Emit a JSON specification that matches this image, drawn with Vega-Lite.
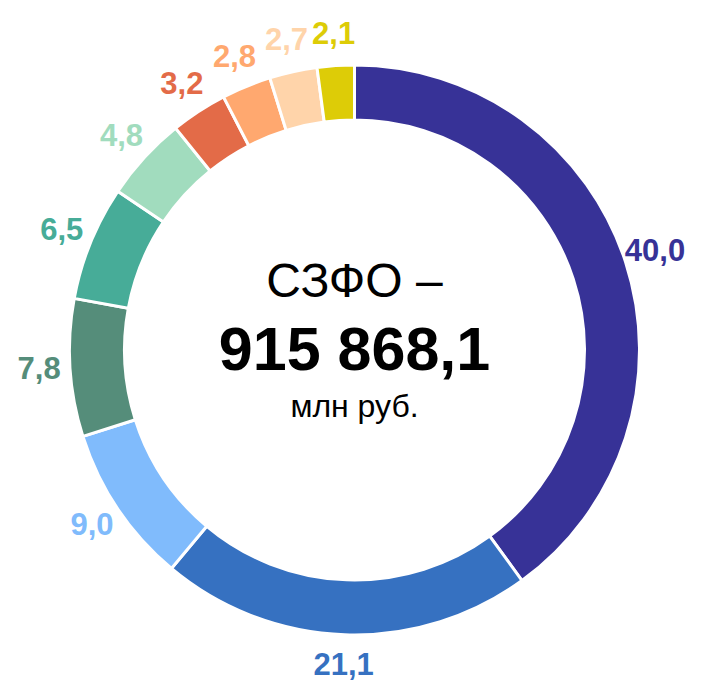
{
  "$schema": "https://vega.github.io/schema/vega-lite/v6.json",
  "width": 708,
  "height": 681,
  "autosize": {"type": "fit", "contains": "padding"},
  "padding": {"top": 19, "left": 1, "right": 0, "bottom": 0},
  "background": "white",
  "view": {"stroke": null},
  "datasets": {
    "shares": [
      {"i": 1, "cat": "a", "value": 40.0, "label": "40,0"},
      {"i": 2, "cat": "b", "value": 21.1, "label": "21,1"},
      {"i": 3, "cat": "c", "value": 9.0, "label": "9,0"},
      {"i": 4, "cat": "d", "value": 7.8, "label": "7,8"},
      {"i": 5, "cat": "e", "value": 6.5, "label": "6,5"},
      {"i": 6, "cat": "f", "value": 4.8, "label": "4,8"},
      {"i": 7, "cat": "g", "value": 3.2, "label": "3,2"},
      {"i": 8, "cat": "h", "value": 2.8, "label": "2,8"},
      {"i": 9, "cat": "k", "value": 2.7, "label": "2,7"},
      {"i": 10, "cat": "m", "value": 2.1, "label": "2,1"}
    ],
    "center": [
      {"line": "title", "text": "СЗФО –"},
      {"line": "total", "text": "915 868,1"},
      {"line": "unit", "text": "млн руб."}
    ]
  },
  "layer": [
    {
      "data": {"name": "shares"},
      "mark": {"type": "arc", "outerRadius": 285, "innerRadius": 230, "stroke": "white", "strokeWidth": 3},
      "encoding": {
        "theta": {"field": "value", "type": "quantitative", "stack": true},
        "order": {"field": "i", "type": "quantitative"},
        "color": {
          "field": "cat",
          "type": "nominal",
          "legend": null,
          "scale": {
            "domain": ["a", "b", "c", "d", "e", "f", "g", "h", "k", "m"],
            "range": ["#373297", "#3671C1", "#80BBFC", "#558D7A", "#47AC98", "#A1DCBE", "#E36B48", "#FFA86F", "#FFD4AA", "#DDCC07"]
          }
        }
      }
    },
    {
      "data": {"name": "shares"},
      "mark": {"type": "text", "radius": 316, "font": "Liberation Sans", "fontWeight": "bold", "fontSize": 31, "align": "center", "baseline": "middle"},
      "encoding": {
        "theta": {"field": "value", "type": "quantitative", "stack": true},
        "order": {"field": "i", "type": "quantitative"},
        "text": {"field": "label"},
        "color": {"field": "cat", "type": "nominal", "legend": null}
      }
    },
    {
      "data": {"name": "center"},
      "transform": [{"filter": "datum.line === 'title'"}],
      "mark": {"type": "text", "font": "Liberation Sans", "fontSize": 48, "color": "black", "align": "center", "baseline": "alphabetic", "dy": -53},
      "encoding": {"text": {"field": "text"}}
    },
    {
      "data": {"name": "center"},
      "transform": [{"filter": "datum.line === 'total'"}],
      "mark": {"type": "text", "font": "Liberation Sans", "fontWeight": "bold", "fontSize": 61, "color": "black", "align": "center", "baseline": "alphabetic", "dy": 20},
      "encoding": {"text": {"field": "text"}}
    },
    {
      "data": {"name": "center"},
      "transform": [{"filter": "datum.line === 'unit'"}],
      "mark": {"type": "text", "font": "Liberation Sans", "fontSize": 32, "color": "black", "align": "center", "baseline": "alphabetic", "dy": 67},
      "encoding": {"text": {"field": "text"}}
    }
  ]
}
